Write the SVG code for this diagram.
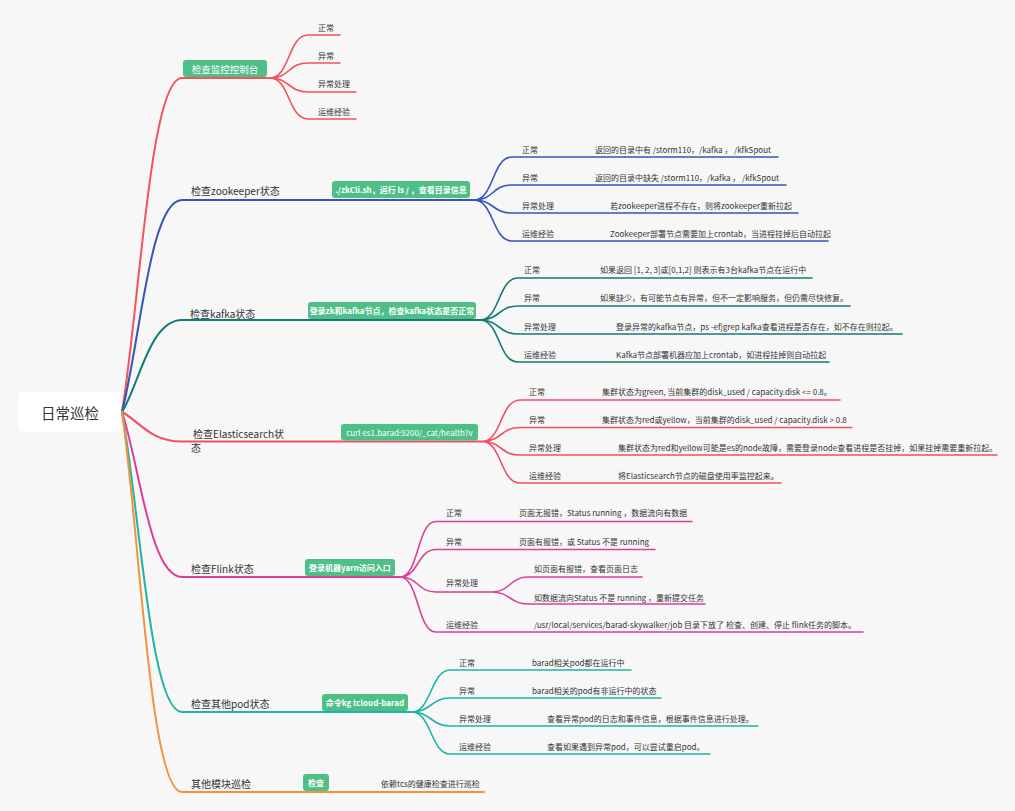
<svg xmlns="http://www.w3.org/2000/svg" width="1015" height="811" viewBox="0 0 1015 811">
<style>
text{font-family:"Noto Sans CJK SC","Noto Sans",sans-serif;dominant-baseline:central}
.root{font-size:14.5px;fill:#333;text-anchor:middle}
.lbl{font-size:10px;fill:#333}
.leaf{font-size:8px;fill:#333}
.tag{fill:#4dbf87}
.tagt{font-size:8px;fill:#fff;font-weight:bold;text-anchor:middle}
.c{fill:none;stroke-width:2;stroke-linecap:round}
.l{fill:none;stroke-width:1.6;stroke-linecap:round}
.r1{stroke:#f5525b}.b{stroke:#3654b9}.t{stroke:#137b77}.e{stroke:#f24f63}.m{stroke:#db3f98}.p{stroke:#1fb3a6}.o{stroke:#f5913c}
</style>
<rect width="1015" height="811" fill="#f7f7f7"/>
<g id="connectors">
<path class="c r1" d="M122 412C140 302 150 78 182 78H270"/>
<path class="l r1" d="M270 78C290 78 288 35 308 35H340M270 78C290 78 288 63 308 63H340M270 78C290 78 288 92 308 92H356M270 78C290 78 288 119 308 119H356"/>
<path class="c b" d="M122 412C140 342 150 200 182 200H474"/>
<path class="l b" d="M474 200C494 200 492 157 512 157H778M474 200C494 200 492 185 512 185H786M474 200C494 200 492 213 512 213H798M474 200C494 200 492 241 512 241H828"/>
<path class="c t" d="M122 412C140 382 150 320 182 320H480"/>
<path class="l t" d="M480 320C500 320 498 278 518 278H812M480 320C500 320 498 306 518 306H850M480 320C500 320 498 334 518 334H902M480 320C500 320 498 362 518 362H829"/>
<path class="c e" d="M122 412C140 421.7 150 441.5 182 441.5H482"/>
<path class="l e" d="M482 441.5C502 441.5 500 400 520 400H840M482 441.5C502 441.5 500 427.5 520 427.5H852M482 441.5C502 441.5 500 455 520 455H997M482 441.5C502 441.5 500 483 520 483H781"/>
<path class="c m" d="M122 412C140 466.5 150 577 182 577H400"/>
<path class="l m" d="M400 577C419 577 417 521.5 436 521.5H692M400 577C419 577 417 549.5 436 549.5H655M400 577C419 577 417 592 436 592H492M400 577C419 577 417 632 436 632H863M492 592C510 592 510 577 528 577H642M492 592C510 592 510 604 528 604H705"/>
<path class="c p" d="M122 412C140 511 150 712 182 712H412"/>
<path class="l p" d="M412 712C431 712 431 670 450 670H631M412 712C431 712 431 698 450 698H661M412 712C431 712 431 726 450 726H758M412 712C431 712 431 754 450 754H710"/>
<path class="c o" d="M122 412C140 537 150 792 182 792H484"/>
</g>
<g id="root"><rect x="18" y="392" width="103" height="40" rx="5" fill="#fff"/><text class="root" x="70" y="412">日常巡检</text></g>
<g id="b1">
<rect class="tag" x="183" y="60" width="84" height="17" rx="3"/><text class="tagt" x="225" y="68.5" style="font-size:9.5px;font-weight:normal">检查监控控制台</text>
<text class="leaf" x="318" y="27">正常</text>
<text class="leaf" x="318" y="55">异常</text>
<text class="leaf" x="318" y="83">异常处理</text>
<text class="leaf" x="318" y="111">运维经验</text>
</g>
<g id="b2">
<text class="lbl" x="191" y="190">检查zookeeper状态</text>
<rect class="tag" x="332" y="181" width="138" height="17" rx="3"/><text class="tagt" x="401" y="189.5">./zkCli.sh，运行 ls / ，查看目录信息</text>
<text class="leaf" x="522" y="149">正常</text><text class="leaf" x="595" y="149">返回的目录中有 /storm110，/kafka ， /kfkSpout</text>
<text class="leaf" x="522" y="177">异常</text><text class="leaf" x="595" y="177">返回的目录中缺失 /storm110，/kafka ， /kfkSpout</text>
<text class="leaf" x="522" y="205">异常处理</text><text class="leaf" x="610" y="205">若zookeeper进程不存在，则将zookeeper重新拉起</text>
<text class="leaf" x="522" y="233">运维经验</text><text class="leaf" x="610" y="233">Zookeeper部署节点需要加上crontab，当进程挂掉后自动拉起</text>
</g>
<g id="b3">
<text class="lbl" x="190" y="313">检查kafka状态</text>
<rect class="tag" x="308" y="302" width="168" height="17" rx="3"/><text class="tagt" x="392" y="310.5">登录zk和kafka节点，检查kafka状态是否正常</text>
<text class="leaf" x="524" y="269">正常</text><text class="leaf" x="600" y="269">如果返回 [1, 2, 3]或[0,1,2] 则表示有3台kafka节点在运行中</text>
<text class="leaf" x="524" y="297">异常</text><text class="leaf" x="600" y="297">如果缺少，有可能节点有异常，但不一定影响服务，但仍需尽快修复。</text>
<text class="leaf" x="524" y="326">异常处理</text><text class="leaf" x="616" y="326">登录异常的kafka节点，ps -ef|grep kafka查看进程是否存在，如不存在则拉起。</text>
<text class="leaf" x="524" y="354">运维经验</text><text class="leaf" x="616" y="354">Kafka节点部署机器应加上crontab，如进程挂掉则自动拉起</text>
</g>
<g id="b4">
<text class="lbl" x="193" y="433">检查Elasticsearch状</text><text class="lbl" x="191" y="447">态</text>
<rect class="tag" x="341" y="424" width="137" height="16.5" rx="3"/><text class="tagt" x="409.5" y="432.3" style="font-weight:normal">curl es1.barad:9200/_cat/health?v</text>
<text class="leaf" x="529" y="391">正常</text><text class="leaf" x="602" y="391">集群状态为green, 当前集群的disk_used / capacity.disk &lt;= 0.8。</text>
<text class="leaf" x="529" y="419">异常</text><text class="leaf" x="602" y="419">集群状态为red或yellow，当前集群的disk_used / capacity.disk &gt; 0.8</text>
<text class="leaf" x="529" y="447">异常处理</text><text class="leaf" x="618" y="447">集群状态为red和yellow可能是es的node故障，需要登录node查看进程是否挂掉，如果挂掉需要重新拉起。</text>
<text class="leaf" x="529" y="475">运维经验</text><text class="leaf" x="618" y="475">将Elasticsearch节点的磁盘使用率监控起来。</text>
</g>
<g id="b5">
<text class="lbl" x="191" y="568">检查Flink状态</text>
<rect class="tag" x="305" y="559" width="90" height="17" rx="3"/><text class="tagt" x="350" y="567.5">登录机器yarn访问入口</text>
<text class="leaf" x="446" y="512">正常</text><text class="leaf" x="519" y="512">页面无报错，Status running ，数据流向有数据</text>
<text class="leaf" x="446" y="541">异常</text><text class="leaf" x="519" y="541">页面有报错，或 Status 不是 running</text>
<text class="leaf" x="446" y="582">异常处理</text>
<text class="leaf" x="534" y="568">如页面有报错，查看页面日志</text>
<text class="leaf" x="534" y="597">如数据流向Status 不是 running ，重新提交任务</text>
<text class="leaf" x="446" y="624">运维经验</text><text class="leaf" x="534" y="624">/usr/local/services/barad-skywalker/job 目录下放了 检查、创建、停止 flink任务的脚本。</text>
</g>
<g id="b6">
<text class="lbl" x="191" y="703">检查其他pod状态</text>
<rect class="tag" x="322" y="694" width="86" height="17" rx="3"/><text class="tagt" x="365" y="702.5">命令kg tcloud-barad</text>
<text class="leaf" x="459" y="662">正常</text><text class="leaf" x="532" y="662">barad相关pod都在运行中</text>
<text class="leaf" x="459" y="690">异常</text><text class="leaf" x="532" y="690">barad相关的pod有非运行中的状态</text>
<text class="leaf" x="459" y="718">异常处理</text><text class="leaf" x="547" y="718">查看异常pod的日志和事件信息，根据事件信息进行处理。</text>
<text class="leaf" x="459" y="746">运维经验</text><text class="leaf" x="547" y="746">查看如果遇到异常pod，可以尝试重启pod。</text>
</g>
<g id="b7">
<text class="lbl" x="191" y="783">其他模块巡检</text>
<rect class="tag" x="303" y="774" width="26" height="17" rx="3"/><text class="tagt" x="316" y="782.5">检查</text>
<text class="leaf" x="381" y="783">依赖tcs的健康检查进行巡检</text>
</g>
</svg>
